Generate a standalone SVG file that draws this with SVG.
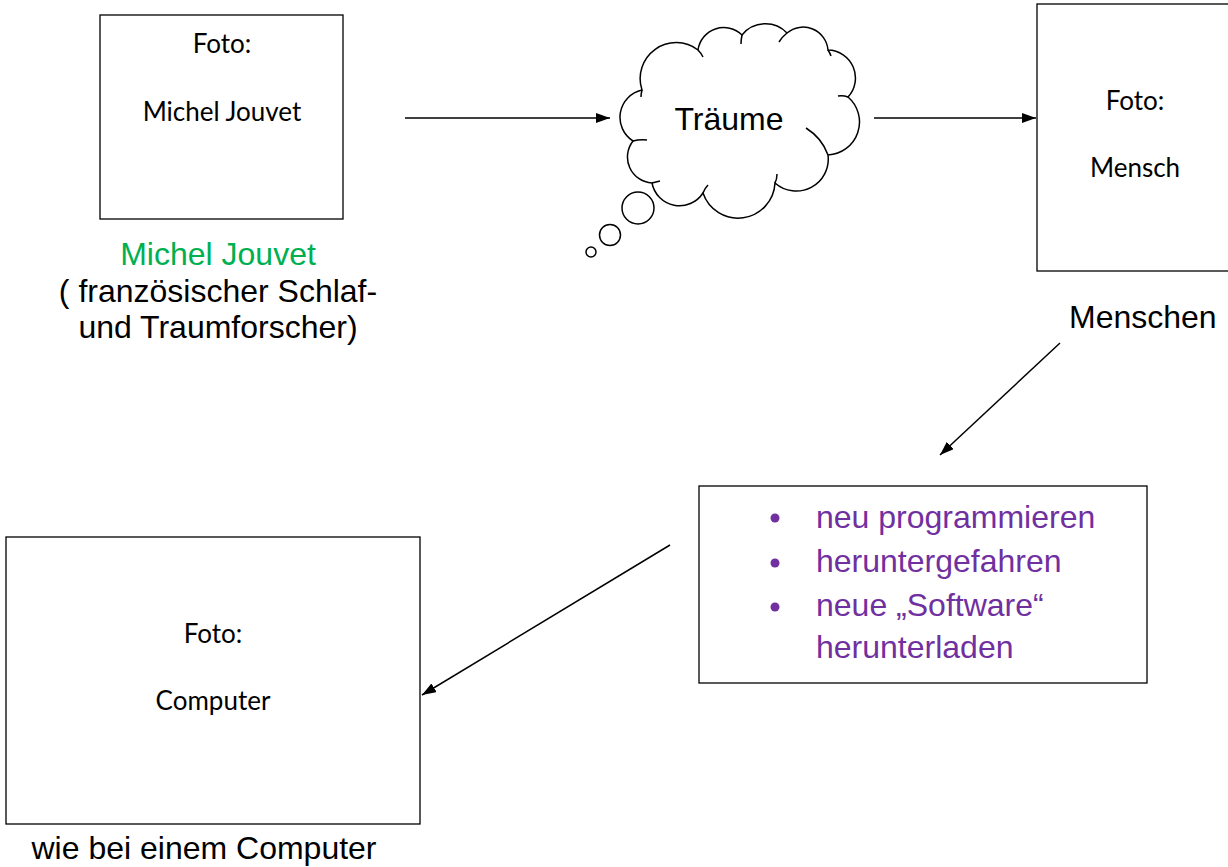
<svg xmlns="http://www.w3.org/2000/svg" width="1228" height="867" viewBox="0 0 1228 867">
<style>
.box{fill:#fff;stroke:#000;stroke-width:1.3}
.cal{font-family:Lato,"Liberation Sans",sans-serif;font-size:26px;fill:#000;text-anchor:middle}
.ar{font-family:"Liberation Sans",Arial,sans-serif;font-size:32px;fill:#000}
.mid{text-anchor:middle}
.pu{fill:#7030A0}
.ln{stroke:#000;stroke-width:1.5;fill:none}
.cl{stroke:#000;stroke-width:1.5;fill:#fff}
</style>
<defs>
<marker id="ah" viewBox="0 0 14 10" refX="14" refY="5" markerWidth="14" markerHeight="10" markerUnits="userSpaceOnUse" orient="auto">
<path d="M0,0 L14,5 L0,10 z" fill="#000"/>
</marker>
</defs>
<rect width="1228" height="867" fill="#fff"/>

<g id="connectors">
<line class="ln" x1="405" y1="118" x2="610" y2="118" marker-end="url(#ah)"/>
<line class="ln" x1="874" y1="118" x2="1036" y2="118" marker-end="url(#ah)"/>
<line class="ln" x1="1060" y1="343" x2="940" y2="455" marker-end="url(#ah)"/>
<line class="ln" x1="670" y1="545" x2="422" y2="695" marker-end="url(#ah)"/>
</g>

<g id="node-jouvet">
<rect class="box" x="100" y="15" width="243" height="204"/>
<text class="cal" x="222" y="53">Foto:</text>
<text class="cal" x="222" y="121">Michel Jouvet</text>
<text class="ar mid" x="218" y="265" style="fill:#00B050">Michel Jouvet</text>
<text class="ar mid" x="218" y="302">( französischer Schlaf-</text>
<text class="ar mid" x="218" y="338">und Traumforscher)</text>
</g>

<g id="node-traeume">
<path class="cl" d="M642,90 A36,36 0 0 1 698,50 A26,26 0 0 1 742,35 A30,30 0 0 1 787,33 A25,25 0 0 1 828,50 A28,28 0 0 1 848,97 A33,33 0 0 1 828,155 A32,32 0 0 1 775,183 A37,37 0 0 1 703,193 A28,28 0 0 1 652,183 A26,26 0 0 1 633,141 A28,28 0 0 1 642,90 Z"/>
<path class="ln" d="M698,50 Q701,53 703,57 M742,35 Q741,40 741,44 M787,33 Q782,37 779,42 M828,50 Q830,53 831,56 M848,97 Q843,95 838,96 M828,155 Q822,138 806,128 M775,183 Q777,179 777,174 M703,193 Q705,188 708,185 M652,183 Q656,182 660,181 M633,141 Q640,139 647,140 M642,90 Q641,94 641,97"/>
<circle class="cl" cx="638" cy="208" r="16"/>
<circle class="cl" cx="610" cy="235" r="10.5"/>
<circle class="cl" cx="591" cy="252" r="5"/>
<text class="ar mid" x="729" y="130">Träume</text>
</g>

<g id="node-mensch">
<rect class="box" x="1037" y="4" width="200" height="267"/>
<text class="cal" x="1135" y="110">Foto:</text>
<text class="cal" x="1135" y="177">Mensch</text>
<text class="ar" x="1069" y="328">Menschen</text>
</g>

<g id="node-list">
<rect class="box" x="699" y="486" width="448" height="197"/>
<circle class="pu" cx="775" cy="518" r="4.5"/>
<circle class="pu" cx="775" cy="563" r="4.5"/>
<circle class="pu" cx="775" cy="607" r="4.5"/>
<text class="ar" x="816" y="528" style="fill:#7030A0">neu programmieren</text>
<text class="ar" x="816" y="572" style="fill:#7030A0">heruntergefahren</text>
<text class="ar" x="816" y="616" style="fill:#7030A0">neue „Software“</text>
<text class="ar" x="816" y="658" style="fill:#7030A0">herunterladen</text>
</g>

<g id="node-computer">
<rect class="box" x="6" y="537" width="414" height="287"/>
<text class="cal" x="213" y="643">Foto:</text>
<text class="cal" x="213" y="710">Computer</text>
<text class="ar mid" x="204" y="859">wie bei einem Computer</text>
</g>
</svg>
